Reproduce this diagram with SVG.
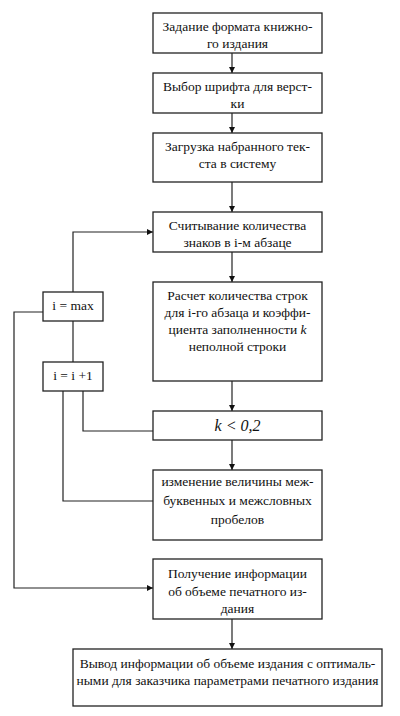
<svg xmlns="http://www.w3.org/2000/svg" width="400" height="716" viewBox="0 0 400 716">
<style>
.box{fill:#fff;stroke:#222;stroke-width:1.3}
.t{font-family:'Liberation Serif','DejaVu Serif',serif;font-size:13.5px;fill:#111;text-anchor:middle}
.ln{fill:none;stroke:#222;stroke-width:1.2}
</style>
<defs>
<marker id="ah" viewBox="0 0 10 10" refX="10" refY="5" markerWidth="6" markerHeight="6" markerUnits="userSpaceOnUse" orient="auto">
<path d="M0,0 L10,5 L0,10 Z" fill="#111"/>
</marker>
</defs>
<rect width="400" height="716" fill="#fff"/>
<g id="connectors">
<line class="ln" x1="232" y1="53" x2="232" y2="73" marker-end="url(#ah)"/>
<line class="ln" x1="232" y1="113" x2="232" y2="133" marker-end="url(#ah)"/>
<line class="ln" x1="232" y1="182" x2="232" y2="212" marker-end="url(#ah)"/>
<line class="ln" x1="232" y1="252" x2="232" y2="282" marker-end="url(#ah)"/>
<line class="ln" x1="232" y1="381" x2="232" y2="411" marker-end="url(#ah)"/>
<line class="ln" x1="232" y1="440" x2="232" y2="470" marker-end="url(#ah)"/>
<line class="ln" x1="232" y1="619" x2="232" y2="649" marker-end="url(#ah)"/>
<polyline class="ln" points="73,292 73,232 153,232" marker-end="url(#ah)"/>
<line class="ln" x1="73" y1="321" x2="73" y2="362"/>
<polyline class="ln" points="43,312 14,312 14,588 153,588" marker-end="url(#ah)"/>
<polyline class="ln" points="83,391 83,431 153,431"/>
<polyline class="ln" points="63,391 63,501 153,501"/>
</g>
<g id="n1"><rect class="box" x="153" y="13" width="169" height="40"/>
<text class="t" x="237.5" y="31" font-family="Liberation Serif">Задание формата книжно-</text>
<text class="t" x="237.5" y="48">го издания</text></g>
<g id="n2"><rect class="box" x="153" y="73" width="169" height="40"/>
<text class="t" x="237.5" y="91">Выбор шрифта для верст-</text>
<text class="t" x="237.5" y="108">ки</text></g>
<g id="n3"><rect class="box" x="153" y="133" width="169" height="49"/>
<text class="t" x="237.5" y="151">Загрузка набранного тек-</text>
<text class="t" x="237.5" y="168">ста в систему</text></g>
<g id="n4"><rect class="box" x="153" y="212" width="169" height="40"/>
<text class="t" x="237.5" y="229.5">Считывание количества</text>
<text class="t" x="237.5" y="247">знаков в i-м абзаце</text></g>
<g id="n5"><rect class="box" x="153" y="282" width="169" height="99"/>
<text class="t" x="237.5" y="299.5">Расчет количества строк</text>
<text class="t" x="237.5" y="316.5">для i-го абзаца и коэффи-</text>
<text class="t" x="237.5" y="333.5">циента заполненности <tspan font-style="italic">k</tspan></text>
<text class="t" x="237.5" y="351">неполной строки</text></g>
<g id="n6"><rect class="box" x="153" y="411" width="169" height="29"/>
<text class="t" x="237.5" y="431" style="font-size:16px;font-style:italic">k &lt; 0,2</text></g>
<g id="n7"><rect class="box" x="153" y="470" width="169" height="70"/>
<text class="t" x="237.5" y="486">изменение величины меж-</text>
<text class="t" x="237.5" y="505">буквенных и межсловных</text>
<text class="t" x="237.5" y="524">пробелов</text></g>
<g id="n8"><rect class="box" x="153" y="559" width="169" height="60"/>
<text class="t" x="237.5" y="577.5">Получение информации</text>
<text class="t" x="237.5" y="596">об объеме печатного из-</text>
<text class="t" x="237.5" y="613">дания</text></g>
<g id="n9"><rect class="box" x="73" y="649" width="309" height="57"/>
<text class="t" x="227.5" y="668">Вывод информации об объеме издания с оптималь-</text>
<text class="t" x="227.5" y="685">ными для заказчика параметрами печатного издания</text></g>
<g id="n10"><rect class="box" x="43" y="292" width="60" height="29"/>
<text class="t" x="73" y="310">i = max</text></g>
<g id="n11"><rect class="box" x="43" y="362" width="60" height="29"/>
<text class="t" x="73" y="380">i = i +1</text></g>
</svg>
